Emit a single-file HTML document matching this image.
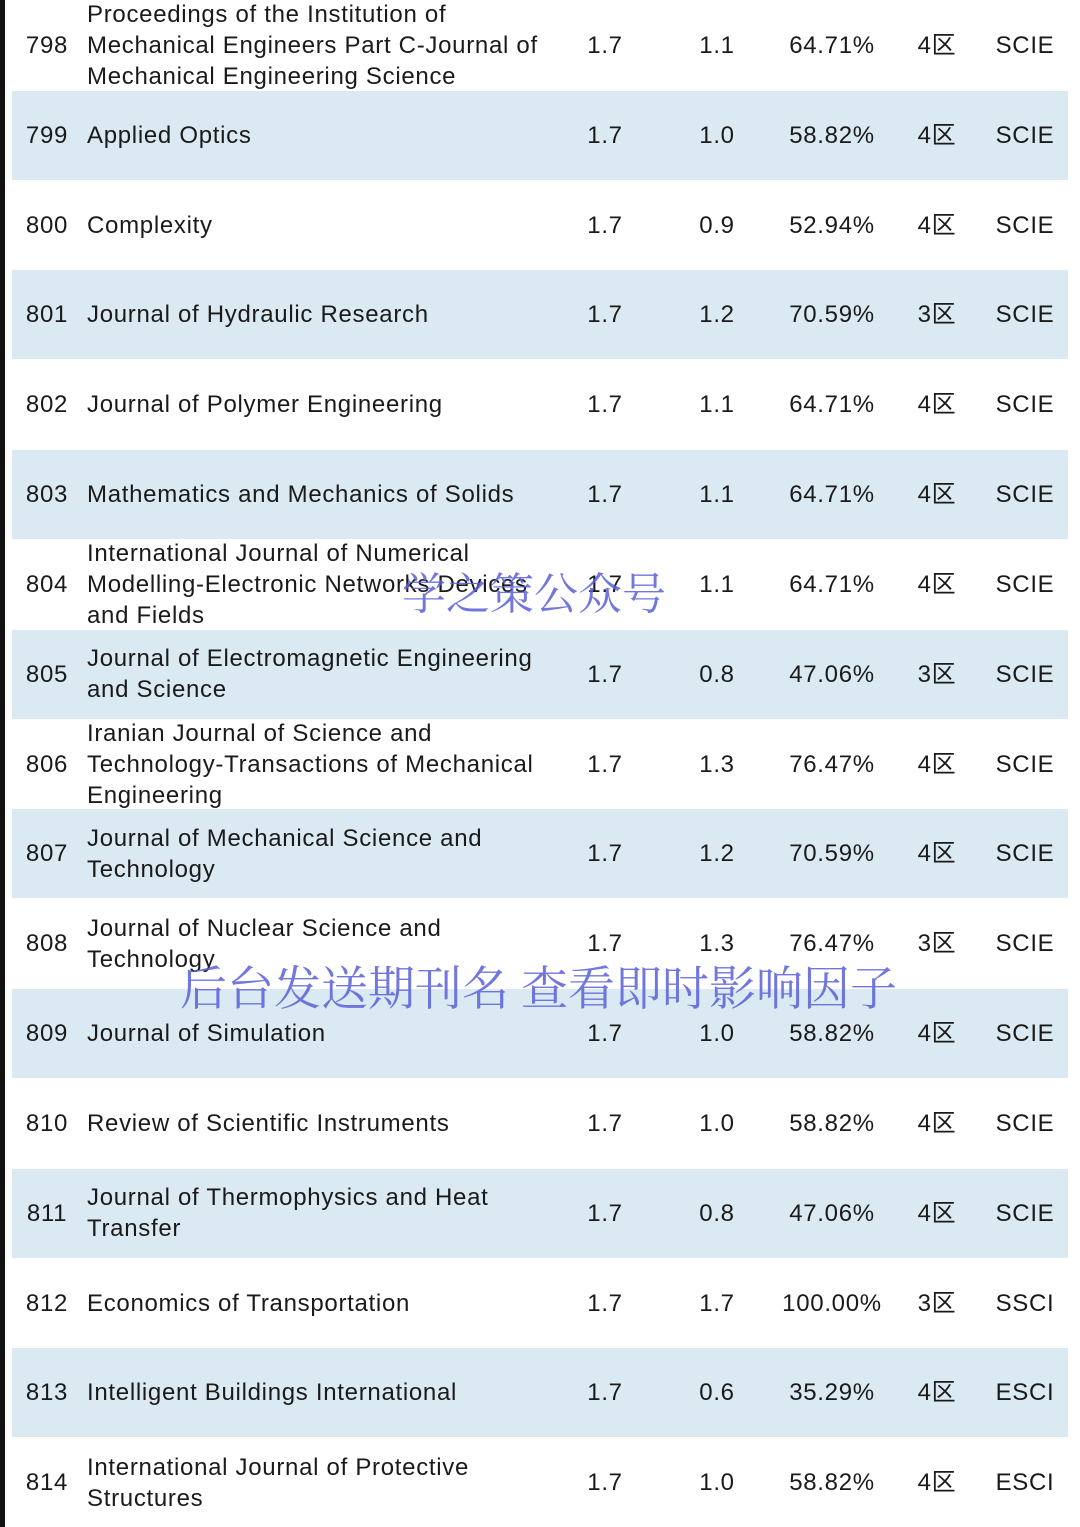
<!DOCTYPE html>
<html><head><meta charset="utf-8"><style>
body{margin:0;width:1080px;height:1527px;background:#fff;position:relative;overflow:hidden;font-family:"Liberation Sans","Noto Sans CJK SC",sans-serif;color:#1a1a1a}
.lb{position:absolute;left:0;top:0;width:5px;height:1527px;background:#111}
.row{position:absolute;left:12px;width:1056px;height:89px}
.row.s{background:#dbe9f2}
.c{position:absolute;top:0;height:100%;display:flex;align-items:center;font-size:24px;line-height:31px;letter-spacing:0.7px;white-space:nowrap}
.name{white-space:normal}
.num{left:0;width:70px;justify-content:center}
.name{left:75px;width:480px}
.v1{left:553px;width:80px;justify-content:center}
.v2{left:665px;width:80px;justify-content:center}
.pc{left:760px;width:120px;justify-content:center}
.zn{left:890px;width:70px;justify-content:center}
.ix{left:973px;width:80px;justify-content:center}
.wm{position:absolute;font-family:"Noto Serif CJK SC",serif;color:#5a60d8;opacity:.85;white-space:nowrap}
</style></head><body>
<div class="lb"></div>
<div id="t"></div>
<div class="wm" style="left:402px;top:558px;font-size:44px">学之策公众号</div>
<div class="wm" style="left:180px;top:952px;font-size:47px">后台发送期刊名 查看即时影响因子</div>
<script>
const ranks=[798,799,800,801,802,803,804,805,806,807,808,809,810,811,812,813,814];
const names=["Proceedings of the Institution of<br>Mechanical Engineers Part C-Journal of<br>Mechanical Engineering Science","Applied Optics","Complexity","Journal of Hydraulic Research","Journal of Polymer Engineering","Mathematics and Mechanics of Solids","International Journal of Numerical<br>Modelling-Electronic Networks Devices<br>and Fields","Journal of Electromagnetic Engineering<br>and Science","Iranian Journal of Science and<br>Technology-Transactions of Mechanical<br>Engineering","Journal of Mechanical Science and<br>Technology","Journal of Nuclear Science and<br>Technology","Journal of Simulation","Review of Scientific Instruments","Journal of Thermophysics and Heat<br>Transfer","Economics of Transportation","Intelligent Buildings International","International Journal of Protective<br>Structures"];
const v1=["1.7","1.7","1.7","1.7","1.7","1.7","1.7","1.7","1.7","1.7","1.7","1.7","1.7","1.7","1.7","1.7","1.7"];
const v2=["1.1","1.0","0.9","1.2","1.1","1.1","1.1","0.8","1.3","1.2","1.3","1.0","1.0","0.8","1.7","0.6","1.0"];
const pcts=["64.71%","58.82%","52.94%","70.59%","64.71%","64.71%","64.71%","47.06%","76.47%","70.59%","76.47%","58.82%","58.82%","47.06%","100.00%","35.29%","58.82%"];
const zones=["4区","4区","4区","3区","4区","4区","4区","3区","4区","4区","3区","4区","4区","4区","3区","4区","4区"];
const idx=["SCIE","SCIE","SCIE","SCIE","SCIE","SCIE","SCIE","SCIE","SCIE","SCIE","SCIE","SCIE","SCIE","SCIE","SSCI","ESCI","ESCI"];
const t=document.getElementById('t');
const rh=1527/17;
ranks.forEach((r,i)=>{
const d=document.createElement('div');
d.className='row'+(i%2?' s':'');
d.style.top=(i*rh+1)+'px';


const cells=[['num',r,'rank'],['name',names[i],'journal-name'],['v1',v1[i],'impact-factor'],['v2',v2[i],'jci'],['pc',pcts[i],'percentile'],['zn',zones[i],'quartile'],['ix',idx[i],'index']];
cells.forEach(c=>{
const e=document.createElement('div');
e.className='c '+c[0];
e.innerHTML=c[1];


d.appendChild(e);
});
t.appendChild(d);
});
</script>
</body></html>
